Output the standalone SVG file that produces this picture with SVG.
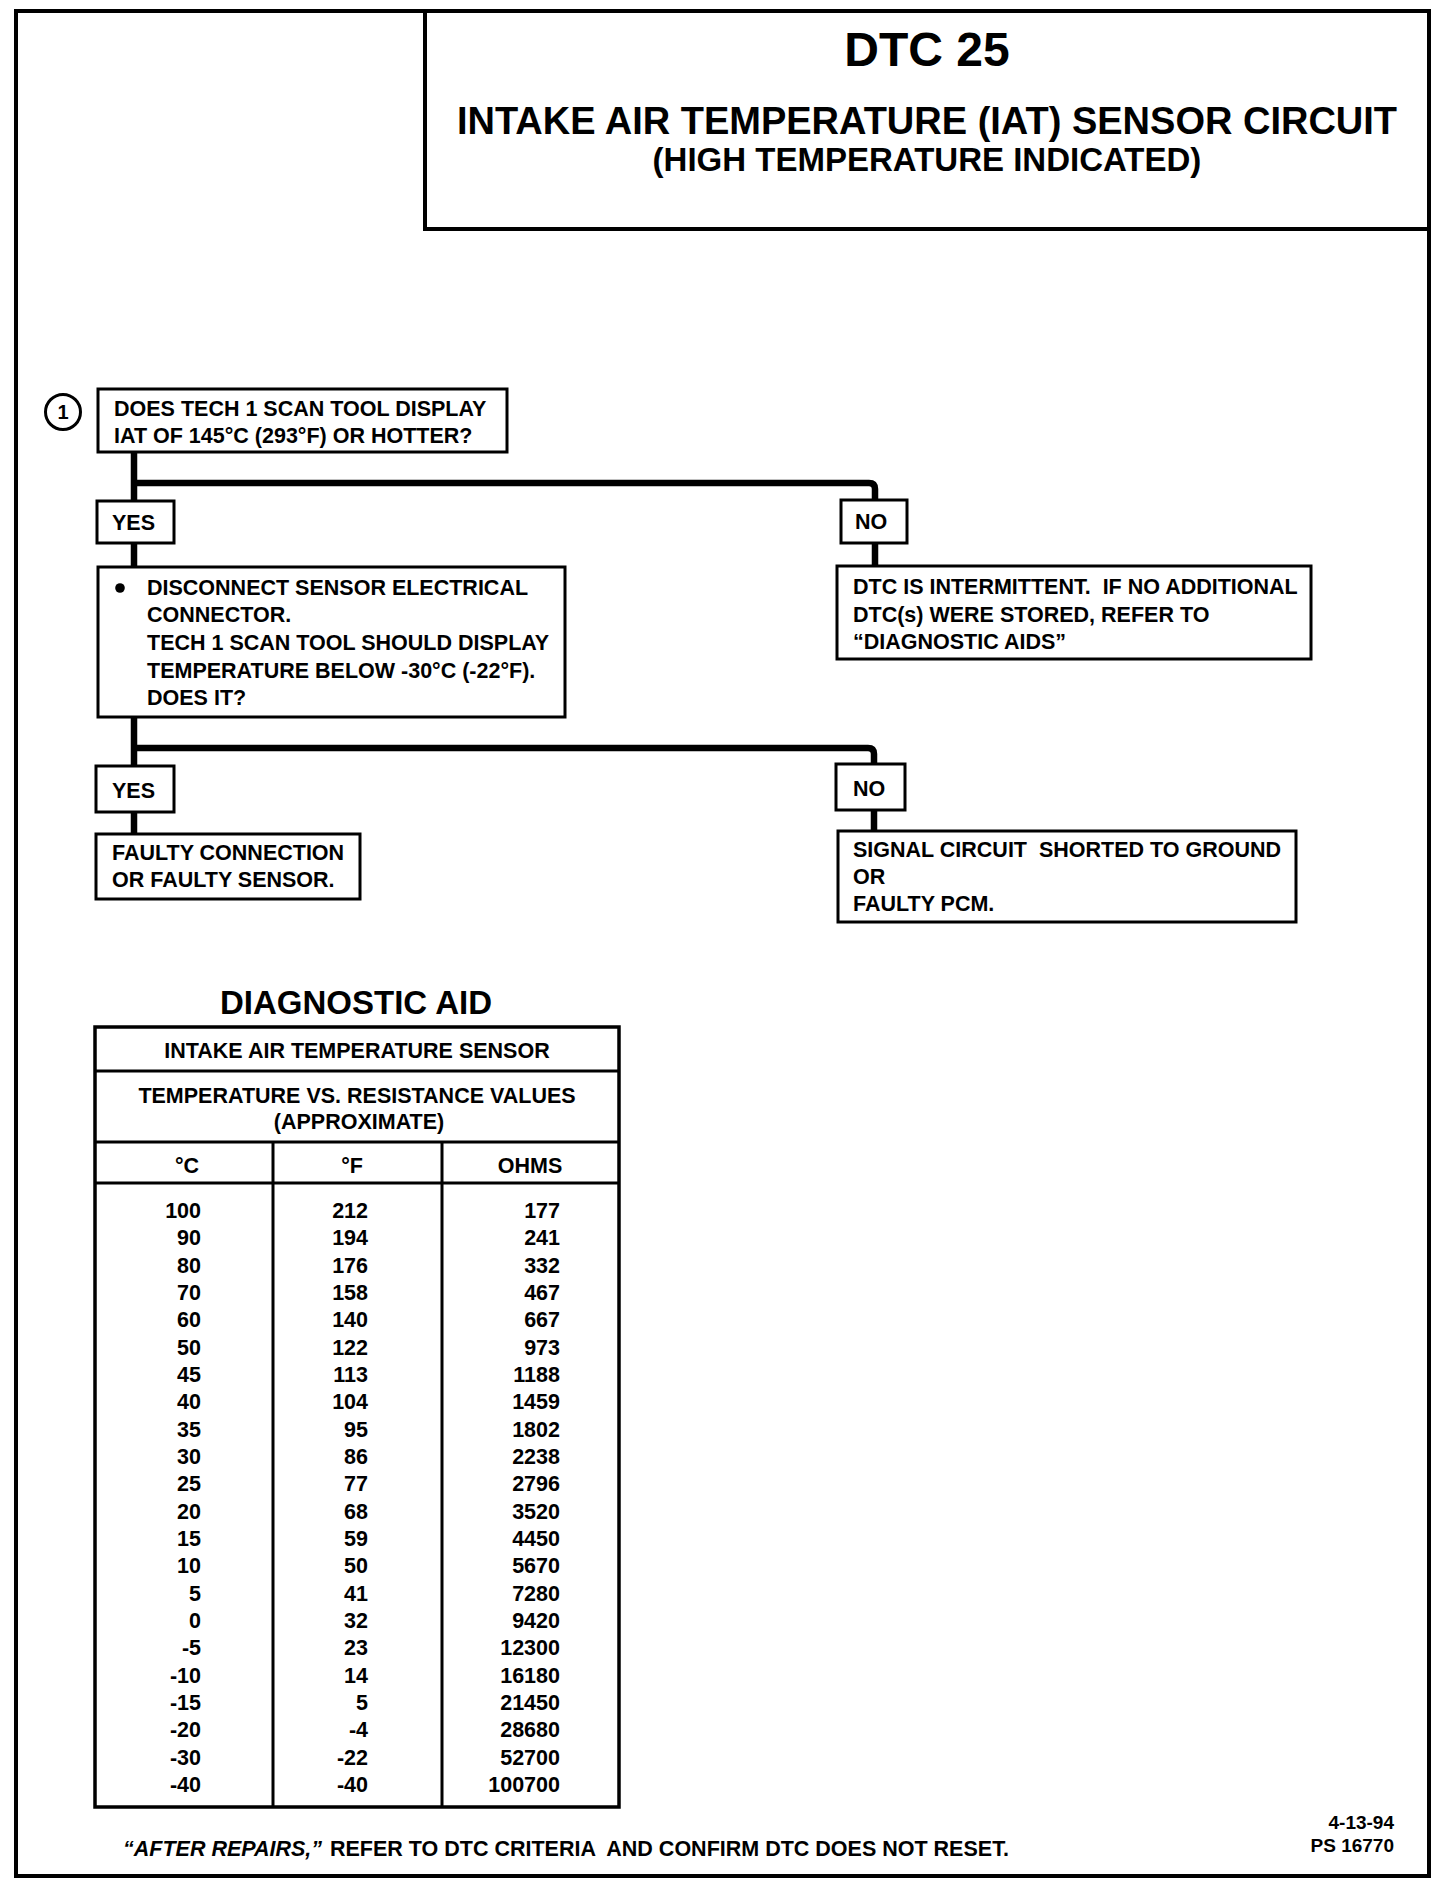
<svg xmlns="http://www.w3.org/2000/svg" width="1440" height="1880" viewBox="0 0 1440 1880">
<style>
text{font-family:"Liberation Sans",Arial,sans-serif;font-weight:bold;fill:#000}
.t{font-size:21.5px}
.n{font-size:21.5px;text-anchor:end}
.c{text-anchor:middle}
.box{fill:#fff;stroke:#000;stroke-width:3}
.frame{fill:none;stroke:#000;stroke-width:4}
.line{fill:none;stroke:#000;stroke-width:3}
.conn{fill:none;stroke:#000;stroke-width:6.5;stroke-linejoin:round}
</style>
<rect width="1440" height="1880" fill="#fff"/>
<rect class="frame" x="16" y="11" width="1413" height="1865"/>

<g id="title">
<rect class="frame" x="425" y="11" width="1004" height="218" stroke-width="3"/>
<text class="c" x="927" y="66" font-size="48">DTC 25</text>
<text class="c" x="927" y="134" font-size="38">INTAKE AIR TEMPERATURE (IAT) SENSOR CIRCUIT</text>
<text class="c" x="927" y="171" font-size="33">(HIGH TEMPERATURE INDICATED)</text>
</g>

<g id="connectors">
<path class="conn" d="M134 451 V502 M134 543 V568 M134 483 H869 Q875 483 875 489 V500 M875 543 V567"/>
<path class="conn" d="M134 716 V767 M134 811 V834 M134 748 H868 Q874 748 874 754 V764 M874 810 V831"/>
</g>

<g id="step1">
<circle cx="63" cy="412" r="17.5" fill="#fff" stroke="#000" stroke-width="3"/>
<text class="c" x="63" y="419" font-size="20">1</text>
<rect class="box" x="98" y="389" width="409" height="63"/>
<text class="t" x="114" y="416">DOES TECH 1 SCAN TOOL DISPLAY</text>
<text class="t" x="114" y="443">IAT OF 145°C (293°F) OR HOTTER?</text>
</g>

<g id="yes1">
<rect class="box" x="97" y="501" width="77" height="42"/>
<text class="t" x="112" y="530">YES</text>
</g>

<g id="no1">
<rect class="box" x="841" y="500" width="66" height="43"/>
<text class="t" x="855" y="529">NO</text>
</g>

<g id="step2">
<rect class="box" x="98" y="567" width="467" height="150"/>
<circle cx="120" cy="588" r="4.8" fill="#000"/>
<text class="t" x="147" y="595">DISCONNECT SENSOR ELECTRICAL</text>
<text class="t" x="147" y="622">CONNECTOR.</text>
<text class="t" x="147" y="650">TECH 1 SCAN TOOL SHOULD DISPLAY</text>
<text class="t" x="147" y="678">TEMPERATURE BELOW -30°C (-22°F).</text>
<text class="t" x="147" y="705">DOES IT?</text>
</g>

<g id="intermittent">
<rect class="box" x="837" y="566" width="474" height="93"/>
<text class="t" x="853" y="594" xml:space="preserve">DTC IS INTERMITTENT.  IF NO ADDITIONAL</text>
<text class="t" x="853" y="622">DTC(s) WERE STORED, REFER TO</text>
<text class="t" x="853" y="649">“DIAGNOSTIC AIDS”</text>
</g>

<g id="yes2">
<rect class="box" x="96" y="766" width="78" height="46"/>
<text class="t" x="112" y="798">YES</text>
</g>

<g id="no2">
<rect class="box" x="836" y="764" width="69" height="46"/>
<text class="t" x="853" y="796">NO</text>
</g>

<g id="faulty">
<rect class="box" x="96" y="834" width="264" height="65"/>
<text class="t" x="112" y="860">FAULTY CONNECTION</text>
<text class="t" x="112" y="887">OR FAULTY SENSOR.</text>
</g>

<g id="signal">
<rect class="box" x="838" y="831" width="458" height="91"/>
<text class="t" x="853" y="857" xml:space="preserve">SIGNAL CIRCUIT  SHORTED TO GROUND</text>
<text class="t" x="853" y="884">OR</text>
<text class="t" x="853" y="911">FAULTY PCM.</text>
</g>

<g id="diagnostic-aid">
<text class="c" x="356" y="1014" font-size="33">DIAGNOSTIC AID</text>
<rect x="95" y="1027" width="524" height="780" fill="none" stroke="#000" stroke-width="3.5"/>
<path class="line" d="M95 1071 H619 M95 1142 H619 M95 1183 H619 M273 1142 V1807 M442 1142 V1807"/>
<text class="t c" x="357" y="1058">INTAKE AIR TEMPERATURE SENSOR</text>
<text class="t c" x="357" y="1103">TEMPERATURE VS. RESISTANCE VALUES</text>
<text class="t c" x="359" y="1129">(APPROXIMATE)</text>
<text class="t c" x="187" y="1173">°C</text>
<text class="t c" x="352" y="1173">°F</text>
<text class="t c" x="530" y="1173">OHMS</text>
<g class="n">
<text class="n" x="201" y="1218">100</text><text class="n" x="368" y="1218">212</text><text class="n" x="560" y="1218">177</text>
<text class="n" x="201" y="1245">90</text><text class="n" x="368" y="1245">194</text><text class="n" x="560" y="1245">241</text>
<text class="n" x="201" y="1273">80</text><text class="n" x="368" y="1273">176</text><text class="n" x="560" y="1273">332</text>
<text class="n" x="201" y="1300">70</text><text class="n" x="368" y="1300">158</text><text class="n" x="560" y="1300">467</text>
<text class="n" x="201" y="1327">60</text><text class="n" x="368" y="1327">140</text><text class="n" x="560" y="1327">667</text>
<text class="n" x="201" y="1355">50</text><text class="n" x="368" y="1355">122</text><text class="n" x="560" y="1355">973</text>
<text class="n" x="201" y="1382">45</text><text class="n" x="368" y="1382">113</text><text class="n" x="560" y="1382">1188</text>
<text class="n" x="201" y="1409">40</text><text class="n" x="368" y="1409">104</text><text class="n" x="560" y="1409">1459</text>
<text class="n" x="201" y="1437">35</text><text class="n" x="368" y="1437">95</text><text class="n" x="560" y="1437">1802</text>
<text class="n" x="201" y="1464">30</text><text class="n" x="368" y="1464">86</text><text class="n" x="560" y="1464">2238</text>
<text class="n" x="201" y="1491">25</text><text class="n" x="368" y="1491">77</text><text class="n" x="560" y="1491">2796</text>
<text class="n" x="201" y="1519">20</text><text class="n" x="368" y="1519">68</text><text class="n" x="560" y="1519">3520</text>
<text class="n" x="201" y="1546">15</text><text class="n" x="368" y="1546">59</text><text class="n" x="560" y="1546">4450</text>
<text class="n" x="201" y="1573">10</text><text class="n" x="368" y="1573">50</text><text class="n" x="560" y="1573">5670</text>
<text class="n" x="201" y="1601">5</text><text class="n" x="368" y="1601">41</text><text class="n" x="560" y="1601">7280</text>
<text class="n" x="201" y="1628">0</text><text class="n" x="368" y="1628">32</text><text class="n" x="560" y="1628">9420</text>
<text class="n" x="201" y="1655">-5</text><text class="n" x="368" y="1655">23</text><text class="n" x="560" y="1655">12300</text>
<text class="n" x="201" y="1683">-10</text><text class="n" x="368" y="1683">14</text><text class="n" x="560" y="1683">16180</text>
<text class="n" x="201" y="1710">-15</text><text class="n" x="368" y="1710">5</text><text class="n" x="560" y="1710">21450</text>
<text class="n" x="201" y="1737">-20</text><text class="n" x="368" y="1737">-4</text><text class="n" x="560" y="1737">28680</text>
<text class="n" x="201" y="1765">-30</text><text class="n" x="368" y="1765">-22</text><text class="n" x="560" y="1765">52700</text>
<text class="n" x="201" y="1792">-40</text><text class="n" x="368" y="1792">-40</text><text class="n" x="560" y="1792">100700</text>
</g>
</g>

<g id="footer">
<text x="123" y="1856" font-size="21.5" font-style="italic">“AFTER REPAIRS,”</text>
<text x="330" y="1856" font-size="21.5" xml:space="preserve">REFER TO DTC CRITERIA  AND CONFIRM DTC DOES NOT RESET.</text>
<text x="1394" y="1829" font-size="19" text-anchor="end">4-13-94</text>
<text x="1394" y="1852" font-size="19" text-anchor="end">PS 16770</text>
</g>
</svg>
